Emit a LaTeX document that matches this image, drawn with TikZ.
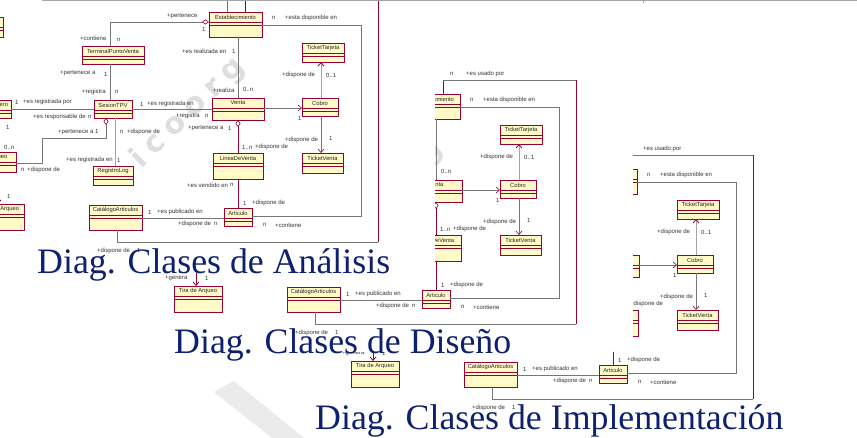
\documentclass[tikz,border=0pt]{standalone}
\usepackage{fontspec}
\setmainfont{Liberation Serif}
\newfontfamily\umlfont{Liberation Sans}
\newfontfamily\wmfont{DejaVu Sans}
\usetikzlibrary{arrows.meta}
\definecolor{boxfill}{RGB}{255,250,200}
\definecolor{umlred}{RGB}{150,0,50}
\definecolor{linegray}{RGB}{118,118,118}
\definecolor{lightline}{RGB}{165,165,165}
\definecolor{captionblue}{RGB}{14,32,112}
\tikzset{
  classbox/.style={draw=umlred, fill=boxfill, line width=0.7pt, inner sep=0pt, outer sep=0pt, anchor=north west},
  classtitle/.style={font=\umlfont\fontsize{5.8}{6}\selectfont, inner sep=0pt, text=black!85},
  compline/.style={draw=umlred, line width=0.5pt},
  lbl/.style={font=\umlfont\fontsize{6}{6}\selectfont, inner sep=0pt, anchor=west, text=black!80},
  assoc/.style={draw=linegray, line width=0.6pt},
  assocred/.style={draw=umlred, line width=0.8pt},
  assoclight/.style={draw=lightline, line width=0.8pt},
  navarrow/.style={arrows={-Straight Barb[length=3.5pt,width=6pt,color=umlred]}},
  aggr/.style={arrows={Diamond[open,length=7pt,width=5pt,color=umlred,line width=0.6pt]-}},
  caption/.style={font=\fontsize{35.8}{38}\selectfont, text=captionblue, inner sep=0pt, anchor=base west},
  wm/.style={font=\wmfont\bfseries\fontsize{30}{30}\selectfont, text=black!13, inner sep=0pt},
}
\newcommand\umlclass[6]{%
  \node[classbox, minimum width={((#4)-(#2))*1pt}, minimum height={((#5)-(#3))*1pt}] (#1) at (#2,#3) {};
  \node[classtitle] (#1t) at ([yshift=-5pt]#1.north) {#6};
  \draw[compline] ([yshift=-10pt]#1.north west) -- ([yshift=-10pt]#1.north east);
  \draw[compline] ([yshift=-13.5pt]#1.north west) -- ([yshift=-13.5pt]#1.north east);
}
\newcommand\umldiagram{%
  \node[wm, rotate=44] (wm) at (188,113) {i\kern8pt c\kern8pt o\kern8pt o\kern8pt r\kern8pt g};
  \umlclass{est}{209}{12}{262}{37}{Establecimiento}
  \umlclass{tpv}{82}{46}{144}{64}{TerminalPuntoVenta}
  \umlclass{ses}{94}{100}{132}{118}{SesionTPV}
  \umlclass{reg}{93}{166}{133}{185}{RegistroLog}
  \umlclass{venta}{212}{98}{264}{120}{Venta}
  \umlclass{cobro}{302}{98}{338}{116}{Cobro}
  \umlclass{ttar}{302}{43}{344}{62}{TicketTarjeta}
  \umlclass{tven}{302}{153}{343}{173}{TicketVenta}
  \umlclass{linea}{213}{153}{263}{179}{LineaDeVenta}
  \umlclass{art}{224}{208}{252}{226}{Articulo}
  \umlclass{cat}{89}{205}{142}{230}{CatálogoArticulos}
  \umlclass{caj}{-12}{100}{11}{118}{Cajero}
  \umlclass{arq}{-20}{152}{16}{172}{Arqueo}
  \umlclass{tira}{-24}{204}{24}{230}{Tira de Arqueo}
  \umlclass{otra}{-40}{17}{3}{37}{}
  % connectors
  \draw[assoc, aggr] (est.west |- 0,22) -- (110,22) -- (110,0 |- tpv.north);
  \draw[assoc] (238,0 |- est.south) -- (238,0 |- venta.north);
  \draw[assoc] (est.east |- 0,25) -- (361,25) -- (361,216) -- (art.east |- 0,216);
  \draw[assoc] (227,0 |- est.north) -- (227,-4);
  \draw[assocred] (245,0 |- est.north) -- (245,-2);
  \draw[assoc] (245,-2) -- (378,-2);
  \draw[assocred] (378,-2) -- (378,242);
  \draw[assoc] (378,242) -- (117,242) -- (117,0 |- cat.south);
  \draw[assoc] (ses.west |- 0,109) -- (caj.east |- 0,109);
  \draw[assoc] (ses.east |- 0,109) -- (venta.west |- 0,109);
  \draw[assoc] (110,0 |- tpv.south) -- (110,0 |- ses.north);
  \draw[assoc, aggr] (106,0 |- ses.south) -- (106,138) -- (42,138) -- (42,163) -- (arq.east |- 0,163);
  \draw[assoclight] (115,0 |- ses.south) -- (115,0 |- reg.north);
  \draw[assoc, navarrow] (venta.east |- 0,108) -- (cobro.west |- 0,108);
  \draw[assoclight, navarrow] (321,0 |- cobro.north) -- (321,0 |- ttar.south);
  \draw[assoc, navarrow] (321,0 |- cobro.south) -- (321,0 |- tven.north);
  \draw[assocred, aggr] (238,0 |- venta.south) -- (238,0 |- linea.north);
  \draw[assocred] (238,0 |- linea.south) -- (238,0 |- art.north);
  \draw[assoc] (cat.east |- 0,218) -- (art.west |- 0,218);
  \draw[assoc] (-3,0 |- caj.south) -- (-3,0 |- arq.north);
  \draw[assocred, navarrow] (-2,0 |- arq.south) -- (-2,0 |- tira.north);
  % labels
  \node[lbl] (l1) at (167,16) {+pertenece};
  \node[lbl] (l2) at (202,29) {1};
  \node[lbl] (l3) at (272,18) {n};
  \node[lbl] (l4) at (285,18) {+esta disponible en};
  \node[lbl] (l5) at (80,38) {+contiene};
  \node[lbl] (l6) at (117,40) {n};
  \node[lbl] (l7) at (60,73) {+pertenece a};
  \node[lbl] (l8) at (104,74) {1};
  \node[lbl] (l9) at (82,92) {+registra};
  \node[lbl] (l10) at (115,92) {n};
  \node[lbl] (l11) at (15,102) {1};
  \node[lbl] (l12) at (23,102) {+es registrada por};
  \node[lbl] (l13) at (33,117) {+es responsable de};
  \node[lbl] (l13b) at (88,117) {n};
  \node[lbl] (l14) at (140,104) {1};
  \node[lbl] (l15) at (147,104) {+es registrada en};
  \node[lbl] (l16) at (176,116) {+registra};
  \node[lbl] (l17) at (205,116) {n};
  \node[lbl] (l18) at (182,51) {+es realizada en};
  \node[lbl] (l19) at (232,51) {1};
  \node[lbl] (l20) at (213,90) {+realiza};
  \node[lbl] (l21) at (243,89) {0..n};
  \node[lbl] (l22) at (298,118) {1};
  \node[lbl] (l23) at (282,75) {+dispone de};
  \node[lbl] (l24) at (326,75) {0..1};
  \node[lbl] (l25) at (285,140) {+dispone de};
  \node[lbl] (l26) at (329,138) {1};
  \node[lbl] (l27) at (188,128) {+pertenece a};
  \node[lbl] (l28) at (228,128) {1};
  \node[lbl] (l29) at (242,147) {1..n};
  \node[lbl] (l30) at (255,147) {+dispone de};
  \node[lbl] (l31) at (58,132) {+pertenece a 1};
  \node[lbl] (l32) at (4,147) {0..n};
  \node[lbl] (l33) at (6,127) {1};
  \node[lbl] (l34) at (120,132) {n};
  \node[lbl] (l35) at (127,132) {+dispone de};
  \node[lbl] (l36) at (66,160) {+es registrada en};
  \node[lbl] (l37) at (117,160) {1};
  \node[lbl] (l38) at (21,170) {n};
  \node[lbl] (l39) at (27,170) {+dispone de};
  \node[lbl] (l40) at (7,196) {1};
  \node[lbl] (l41) at (-33,196) {+genera};
  \node[lbl] (l42) at (187,185) {+es vendido en};
  \node[lbl] (l43) at (230,185) {n};
  \node[lbl] (l44) at (243,203) {1};
  \node[lbl] (l45) at (252,203) {+dispone de};
  \node[lbl] (l46) at (148,212) {1};
  \node[lbl] (l47) at (157,212) {+es publicado en};
  \node[lbl] (l48) at (178,224) {+dispone de};
  \node[lbl] (l49) at (214,224) {n};
  \node[lbl] (l50) at (263,225) {n};
  \node[lbl] (l51) at (275,225) {+contiene};
  \node[lbl] (l52) at (97,251) {+dispone de};
  \node[lbl] (l53) at (137,250) {1};
  \node[lbl] (l54) at (252,-8) {n};
  \node[lbl] (l55) at (268,-8) {+es usado por};
}
\begin{document}
\begin{tikzpicture}[x=1pt,y=-1pt]
  \useasboundingbox (0,0) rectangle (857,438);
  \fill[white] (0,0) rectangle (857,438);
  % panel 3 (Implementacion)
  \begin{scope}
    \clip (633,100) -- (857,100) -- (857,438) -- (300,438) -- (300,352) -- (633,352) -- cycle;
    \begin{scope}[shift={(375,157)}, name prefix=p3-]
      \umldiagram
    \end{scope}
  \end{scope}
  % panel 2 (Diseno)
  \begin{scope}
    \clip (435,40) -- (660,40) -- (660,362) -- (100,362) -- (100,273) -- (435,273) -- cycle;
    \begin{scope}[shift={(198,82)}, name prefix=p2-]
      \umldiagram
    \end{scope}
  \end{scope}
  % panel 1 (Analisis)
  \begin{scope}[name prefix=p1-]
    \umldiagram
  \end{scope}
  % frame line and watermark band
  \draw[black!35, line width=0.8pt] (42,0.5) coordinate (topa) -- (857,0.5) coordinate (topb);
  \draw[black!35, line width=0.6pt] (643,0) coordinate (ticka) -- (643,3) coordinate (tickb);
  \fill[black!8] (214,392) -- (234,381) -- (304,438) -- (272,438) -- cycle;
  % captions
  \node[caption] (cap1) at (37,274) {Diag. Clases de Análisis};
  \node[caption] (cap2) at (174,354) {Diag. Clases de Diseño};
  \node[caption] (cap3) at (315,429) {Diag. Clases de Implementación};
\end{tikzpicture}
\end{document}
